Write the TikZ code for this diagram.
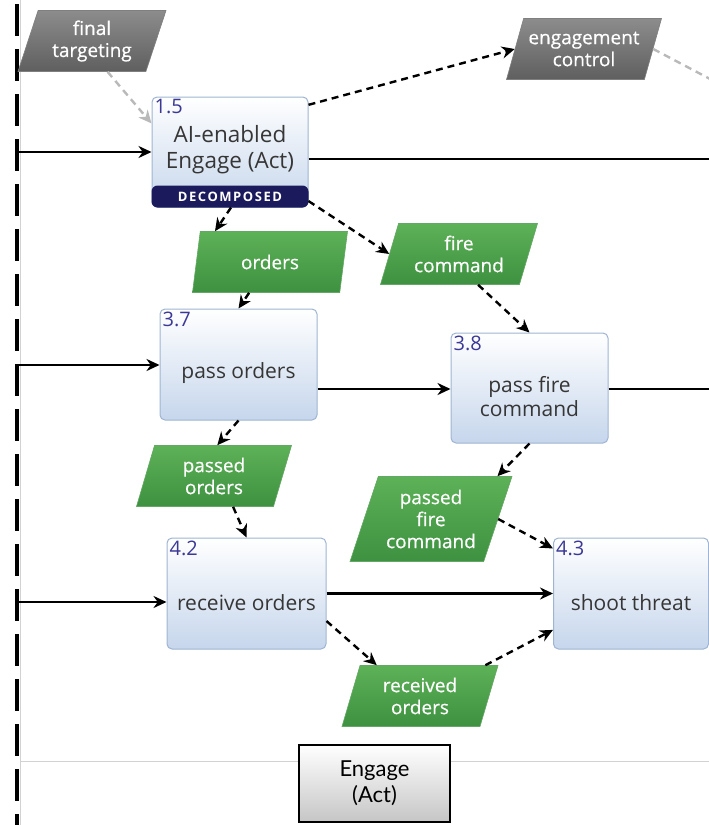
\documentclass[tikz,border=0pt]{standalone}
\usepackage{fontspec}
\setmainfont{Open Sans}
\newfontfamily\gillfont{Lato}
\usepackage{tikz}
\usetikzlibrary{arrows.meta, calc, shapes.geometric}

\definecolor{procline}{HTML}{9FB4D2}
\definecolor{proctop}{HTML}{FFFFFF}
\definecolor{procbot}{HTML}{C6D6EC}
\definecolor{numblue}{HTML}{3B3896}
\definecolor{decnavy}{HTML}{1B1A5C}
\definecolor{itemtop}{HTML}{5DB157}
\definecolor{itembot}{HTML}{3E9140}
\definecolor{exttop}{HTML}{8C8C8C}
\definecolor{extbot}{HTML}{5F5F5F}
\definecolor{boxtext}{HTML}{363636}

\tikzset{
  proc/.style={rectangle, rounded corners=5pt, draw=procline, line width=1pt,
    top color=proctop, bottom color=procbot, minimum width=157pt, minimum height=111pt},
  proctext/.style={anchor=center, yshift=-9pt, align=center, text=boxtext,
    font=\fontsize{21}{24}\selectfont},
  procnum/.style={anchor=north west, inner sep=3pt, text=numblue, font=\fontsize{20}{20}\selectfont},
  flowitem/.style={trapezium, trapezium left angle=65, trapezium right angle=115,
    trapezium stretches body, minimum width=155pt, minimum height=61pt, inner sep=1pt,
    align=center, text=white, font=\fontsize{19}{22}\selectfont\addfontfeatures{FakeBold=0.5},
    top color=itemtop, bottom color=itembot, draw=itembot!80!white, line width=0.6pt},
  extitem/.style={flowitem, top color=exttop, bottom color=extbot, draw=extbot!80!white},
  seqline/.style={line width=2.4pt, black},
  seqarrow/.style={seqline, -{Stealth[length=13pt, width=12pt]}},
  dataflow/.style={line width=2.4pt, dash pattern=on 7pt off 5pt, -{Stealth[length=13pt, width=12pt]}},
  extflow/.style={dataflow, gray!55},
}

\begin{document}
\begin{tikzpicture}[x=1pt, y=-1pt]
  \useasboundingbox (0,0) rectangle (709,825);

     % -------------------------
     % Swim lane border
     % -------------------------
      \coordinate (lanetop) at (17,4);
      \coordinate (lanebot) at (17,825);
      \draw[gray!35, line width=0.5pt] (20,0) -- (20,825);
      \draw[line width=4pt, dash pattern=on 32pt off 13pt] (lanetop) -- (lanebot);
      \coordinate (hl) at (20,761);
      \coordinate (hr) at (709,761);
      \draw[gray!35, line width=0.8pt] (hl) -- (hr);

     % -------------------------
     % Processes
     % -------------------------
      \node[proc, minimum width=156pt, minimum height=110pt, label={[procnum]north west:1.5},
        label={[proctext, yshift=11pt, font=\fontsize{22.5}{26}\selectfont]center:AI-enabled\\Engage (Act)}] (p15) at (230,152) {};
      \node[proc, label={[procnum]north west:3.7}, label={[proctext]center:pass orders}] (p37) at (238.5,364.5) {};
      \node[proc, minimum height=110pt, label={[procnum]north west:3.8}, label={[proctext]center:pass fire\\command}] (p38) at (529.5,388) {};
      \node[proc, minimum width=159pt, label={[procnum]north west:4.2}, label={[proctext]center:receive orders}] (p42) at (246.5,593.5) {};
      \node[proc, minimum width=155pt, label={[procnum]north west:4.3}, label={[proctext]center:shoot threat}] (p43) at (631,593.5) {};

      % Decomposed band
      \fill[decnavy, rounded corners=6pt] ($(p15.south west)+(0,-22)$) rectangle (p15.south east);
      \node[text=white, font=\fontsize{13}{13}\bfseries\addfontfeatures{LetterSpace=12}] (p15dec) at ($(p15.south)+(0,-11)$) {DECOMPOSED};

     % -------------------------
     % Items
     % -------------------------
      \node[extitem, minimum width=148pt] (fintgt) at (92,41) {final\\targeting};
      \node[extitem, inner xsep=-6pt] (engctl) at (584,49) {engagement\\control};
      \node[flowitem] (orders) at (270,262) {orders};
      \node[flowitem, minimum width=157pt] (firecmd) at (459,254) {fire\\command};
      \node[flowitem] (pssord) at (214,476) {passed\\orders};
      \node[flowitem, minimum width=162pt, minimum height=85pt] (pssfire) at (431,519) {passed\\fire\\command};
      \node[flowitem, minimum width=156pt] (rcvord) at (420,696) {received\\orders};

     % -------------------------
     % Sequence lines
     % -------------------------
      \coordinate (l1) at (17,152);
      \coordinate (l2) at (17,365);
      \coordinate (l3) at (17,602);
      \coordinate (r1) at (709,159);
      \coordinate (r2) at (709,389);
      \draw[seqarrow] (l1) -- (p15.west |- l1);
      \draw[seqline] (p15.east |- r1) -- (r1);
      \draw[seqarrow] (l2) -- (p37.west |- l2);
      \draw[seqarrow] (p37.east |- r2) -- (p38.west |- r2);
      \draw[seqline] (p38.east |- r2) -- (r2);
      \draw[seqarrow] (l3) -- (p42.west |- l3);
      \draw[seqarrow] (p42.east) -- (p43.west);

     % -------------------------
     % Item flows
     % -------------------------
      \coordinate (engout) at (712,80);
      \draw[extflow] ($(fintgt.bottom left corner)!0.7!(fintgt.bottom right corner)$) -- (p15.160);
      \draw[extflow, -] (engctl.east) -- (engout);
      \draw[dataflow] (p15.31) -- (engctl.west);
      \draw[dataflow] ($(p15.south)+(1,0)$) -- ($(orders.top left corner)+(15,0)$);
      \draw[dataflow] (p15.-32) -- (firecmd.west);
      \draw[dataflow] ($(orders.bottom left corner)+(57,0)$) -- (p37.north);
      \draw[dataflow] ($(firecmd.bottom left corner)+(98,0)$) -- (p38.north);
      \draw[dataflow] (p37.south) -- ($(pssord.top left corner)+(63,0)$);
      \draw[dataflow] (p38.south) -- ($(pssfire.top right corner)+(-15,0)$);
      \draw[dataflow] ($(pssord.bottom left corner)+(97,0)$) -- (p42.north);
      \draw[dataflow] (pssfire.east) -- (p43.150);
      \draw[dataflow] (p42.-19) -- ($(rcvord.top left corner)+(17,0)$);
      \draw[dataflow] ($(rcvord.top right corner)+(-13,0)$) -- (p43.205);

     % -------------------------
     % Lane title
     % -------------------------
      \node[draw=black, line width=1.5pt, top color=white, bottom color=gray!45,
        minimum width=151pt, minimum height=77pt, align=center,
        font=\gillfont\fontsize{22}{26}\selectfont] (eng) at (374.5,783.5) {Engage\\(Act)};
\end{tikzpicture}
\end{document}
